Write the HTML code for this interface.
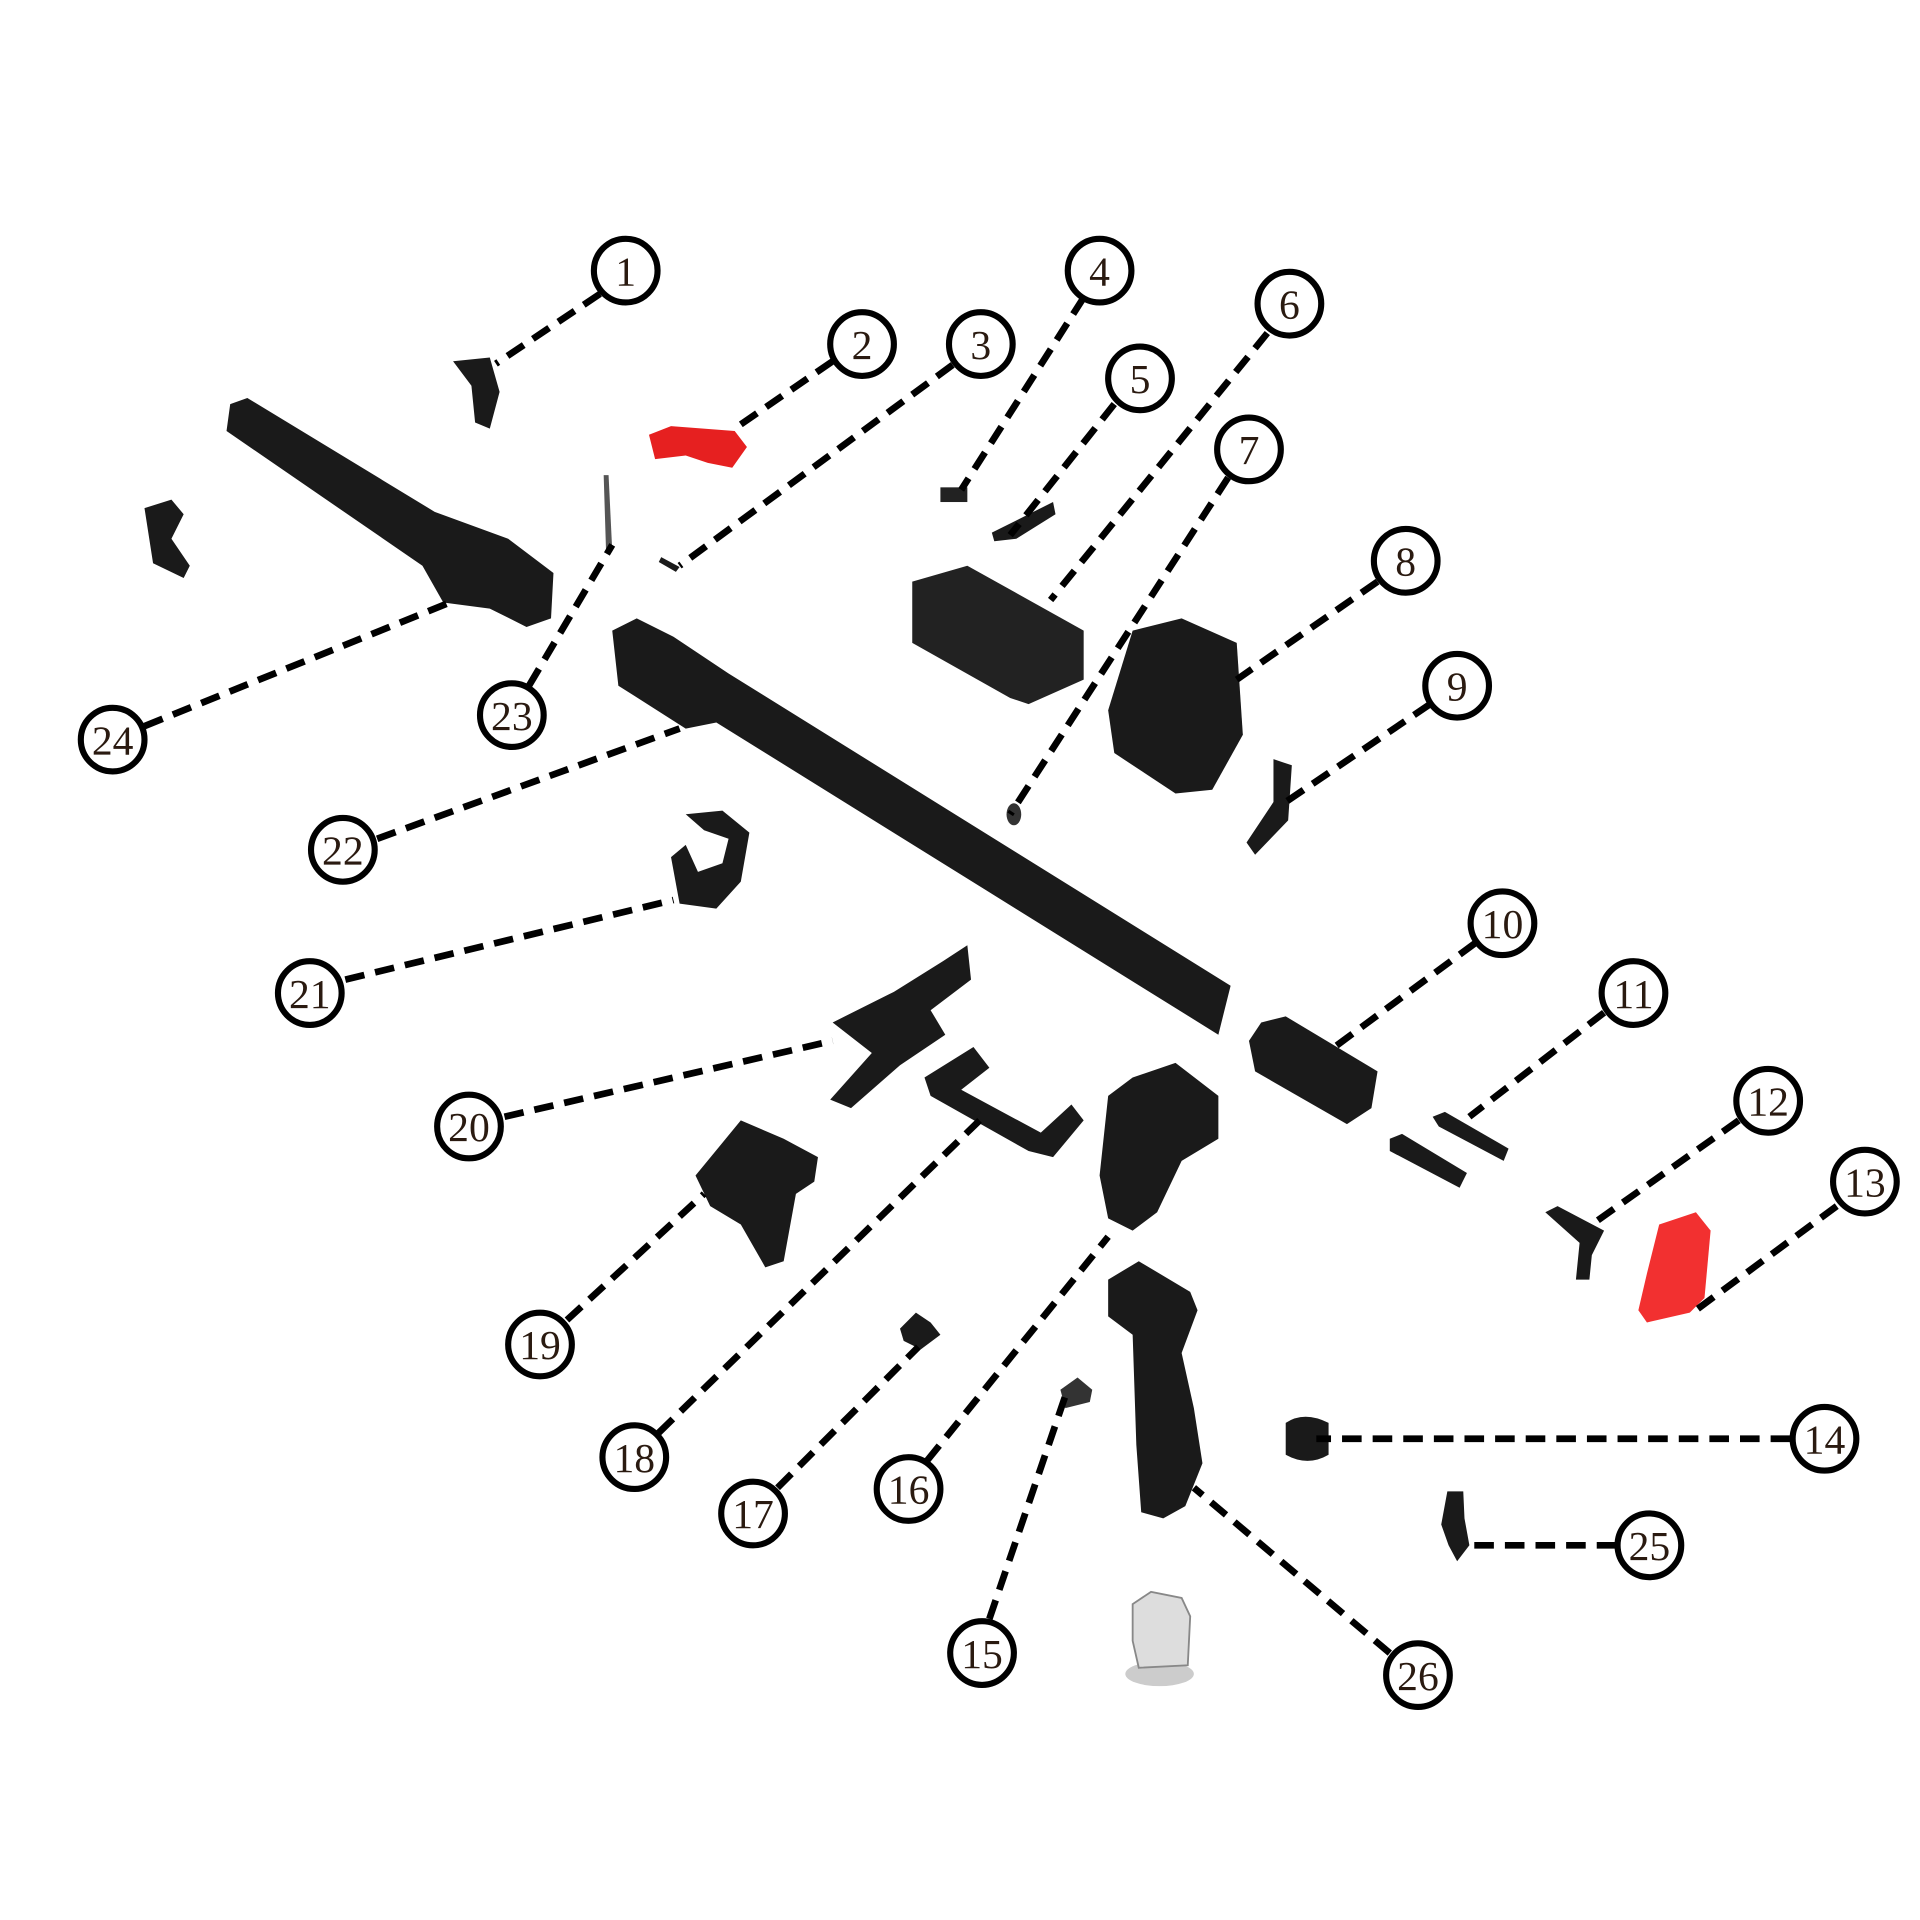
<!DOCTYPE html>
<html><head><style>html,body{margin:0;padding:0;background:#fff}svg{display:block}</style></head>
<body>
<svg width="1920" height="1920" viewBox="0 0 1568 1568" xmlns="http://www.w3.org/2000/svg">
<rect width="1568" height="1568" fill="#fff"/>
<g fill="#1a1a1a" stroke="none">
<path d="M188,330 L202,325 L355,418 L415,440 L452,468 L450,505 L430,512 L400,497 L362,492 L345,462 L185,352 Z"/>
<path d="M500,515 L520,505 L550,520 L595,550 L1005,805 L995,845 L585,590 L560,595 L505,560 Z"/>
<path d="M370,295 L400,292 L408,320 L400,350 L388,345 L385,315 Z"/>
<path d="M118,415 L140,408 L150,420 L140,440 L155,462 L150,472 L125,460 Z"/>
<path d="M745,475 L790,462 L885,515 L885,555 L840,575 L825,570 L745,525 Z" fill="#222"/>
<path d="M925,515 L965,505 L1010,525 L1015,600 L990,645 L960,648 L910,615 L905,580 Z"/>
<path d="M1040,620 L1055,625 L1052,670 L1025,698 L1018,688 L1040,655 Z"/>
<rect x="768" y="398" width="22" height="12" fill="#222"/>
<path d="M810,435 L840,420 L860,410 L862,420 L830,440 L812,442 Z"/>
<path d="M540,455 L555,463 L552,467 L538,459 Z"/>
<path d="M493,388 L497,388 L500,450 L495,452 Z" fill="#555"/>
<ellipse cx="828" cy="665" rx="6" ry="9" fill="#333"/>
<path d="M560,665 L590,662 L612,680 L605,720 L585,742 L555,738 L548,700 L560,690 L570,712 L590,705 L595,685 L575,678 Z"/>
<path d="M680,835 L730,810 L770,785 L790,772 L793,800 L760,825 L772,845 L735,870 L695,905 L678,898 L712,860 Z"/>
<path d="M755,880 L795,855 L808,872 L785,890 L850,925 L875,902 L885,915 L860,945 L840,940 L760,895 Z"/>
<path d="M568,960 L605,915 L640,930 L668,945 L665,965 L650,975 L640,1030 L625,1035 L605,1000 L580,985 Z"/>
<path d="M905,895 L925,880 L960,868 L995,895 L995,930 L965,948 L945,990 L925,1005 L905,995 L898,960 Z"/>
<path d="M1030,835 L1050,830 L1125,875 L1120,905 L1100,918 L1025,875 L1020,850 Z"/>
<path d="M1170,912 L1180,908 L1232,938 L1228,948 L1175,920 Z"/>
<path d="M1135,930 L1145,926 L1198,958 L1192,970 L1135,940 Z"/>
<path d="M1262,990 L1272,985 L1310,1005 L1300,1025 L1298,1045 L1287,1045 L1290,1015 Z"/>
<path d="M735,1085 L748,1072 L760,1080 L768,1090 L752,1102 L738,1095 Z"/>
<path d="M866,1135 L880,1125 L892,1135 L890,1145 L870,1150 Z" fill="#333"/>
<path d="M905,1045 L930,1030 L972,1055 L978,1070 L965,1105 L975,1150 L982,1195 L968,1230 L950,1240 L932,1235 L928,1180 L925,1090 L905,1075 Z"/>
<path d="M1050,1162 Q1065,1152 1085,1162 L1085,1188 Q1068,1198 1050,1188 Z"/>
<path d="M1182,1218 L1195,1218 L1196,1240 L1200,1262 L1190,1275 L1183,1262 L1177,1245 Z"/>
</g>
<path d="M530,355 L548,348 L600,352 L610,365 L598,382 L578,378 L560,372 L535,375 Z" fill="#e62020"/>
<path d="M1355,1000 L1385,990 L1397,1005 L1392,1060 L1380,1072 L1345,1080 L1338,1070 L1345,1040 Z" fill="#f23030"/>
<ellipse cx="947" cy="1367" rx="28" ry="10" fill="#ccc"/>
<path d="M925,1310 L940,1300 L965,1305 L972,1320 L970,1360 L930,1362 L925,1340 Z" fill="#ddd" stroke="#888" stroke-width="1.5"/>
<g stroke="#000" stroke-width="5.5" stroke-dasharray="16 9" fill="none">
<line x1="490" y1="240" x2="405" y2="297"/>
<line x1="680" y1="295" x2="600" y2="350"/>
<line x1="778" y1="298" x2="555" y2="462"/>
<line x1="885" y1="243" x2="785" y2="400"/>
<line x1="910" y1="330" x2="825" y2="437"/>
<line x1="1035" y1="272" x2="858" y2="490"/>
<line x1="1003" y1="390" x2="825" y2="665"/>
<line x1="1125" y1="475" x2="1010" y2="555"/>
<line x1="1168" y1="575" x2="1050" y2="655"/>
<line x1="1205" y1="770" x2="1090" y2="855"/>
<line x1="1310" y1="827" x2="1200" y2="912"/>
<line x1="1420" y1="915" x2="1300" y2="1000"/>
<line x1="1500" y1="985" x2="1385" y2="1070"/>
<line x1="1462" y1="1175" x2="1075" y2="1175"/>
<line x1="1320" y1="1262" x2="1195" y2="1262"/>
<line x1="1135" y1="1350" x2="975" y2="1215"/>
<line x1="808" y1="1322" x2="870" y2="1140"/>
<line x1="757" y1="1193" x2="905" y2="1010"/>
<line x1="635" y1="1215" x2="750" y2="1100"/>
<line x1="538" y1="1170" x2="800" y2="915"/>
<line x1="463" y1="1078" x2="575" y2="975"/>
<line x1="412" y1="912" x2="680" y2="850"/>
<line x1="282" y1="800" x2="550" y2="735"/>
<line x1="308" y1="685" x2="555" y2="595"/>
<line x1="432" y1="560" x2="500" y2="445"/>
<line x1="118" y1="593" x2="365" y2="493"/>
</g>
<g font-family="'Liberation Serif', serif" font-size="34" text-anchor="middle" fill="#2a1a10">
<g stroke="#000" stroke-width="5" fill="#fff">
<circle cx="511" cy="221" r="26"/><circle cx="704" cy="281" r="26"/><circle cx="801" cy="281" r="26"/>
<circle cx="898" cy="221" r="26"/><circle cx="931" cy="309" r="26"/><circle cx="1053" cy="248" r="26"/>
<circle cx="1020" cy="367" r="26"/><circle cx="1148" cy="458" r="26"/><circle cx="1190" cy="560" r="26"/>
<circle cx="1227" cy="754" r="26"/><circle cx="1334" cy="811" r="26"/><circle cx="1444" cy="899" r="26"/>
<circle cx="1523" cy="965" r="26"/><circle cx="1490" cy="1175" r="26"/><circle cx="1347" cy="1262" r="26"/>
<circle cx="1158" cy="1368" r="26"/><circle cx="802" cy="1350" r="26"/><circle cx="742" cy="1216" r="26"/>
<circle cx="615" cy="1236" r="26"/><circle cx="518" cy="1190" r="26"/><circle cx="441" cy="1098" r="26"/>
<circle cx="383" cy="920" r="26"/><circle cx="253" cy="811" r="26"/><circle cx="280" cy="694" r="26"/>
<circle cx="418" cy="584" r="26"/><circle cx="92" cy="604" r="26"/>
</g>
<text x="511" y="233">1</text><text x="704" y="293">2</text><text x="801" y="293">3</text>
<text x="898" y="233">4</text><text x="931" y="321">5</text><text x="1053" y="260">6</text>
<text x="1020" y="379">7</text><text x="1148" y="470">8</text><text x="1190" y="572">9</text>
<text x="1227" y="766">10</text><text x="1334" y="823">11</text><text x="1444" y="911">12</text>
<text x="1523" y="977">13</text><text x="1490" y="1187">14</text><text x="1347" y="1274">25</text>
<text x="1158" y="1380">26</text><text x="802" y="1362">15</text><text x="742" y="1228">16</text>
<text x="615" y="1248">17</text><text x="518" y="1202">18</text><text x="441" y="1110">19</text>
<text x="383" y="932">20</text><text x="253" y="823">21</text><text x="280" y="706">22</text>
<text x="418" y="596">23</text><text x="92" y="616">24</text>
</g>
</svg>
</body></html>
